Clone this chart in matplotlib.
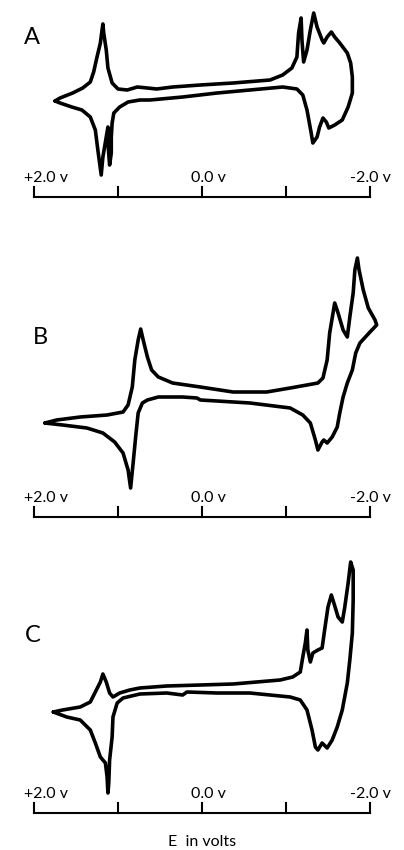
import matplotlib
matplotlib.use('Agg')
import matplotlib.pyplot as plt

# cyclic voltammograms, potential in volts, current in arbitrary units
# (each list is one closed scan starting at the positive limit)
eA = [1.75, 1.69, 1.54, 1.42, 1.33, 1.29, 1.25, 1.21, 1.19, 1.18, 1.17, 1.14, 1.12, 1.07, 1.00,
      0.89, 0.77, 0.65, 0.54, 0.35, 0.02, -0.37, -0.81, -0.96, -1.07, -1.13, -1.15, -1.18,
      -1.19, -1.21, -1.25, -1.29, -1.33, -1.37, -1.43, -1.45, -1.49, -1.54, -1.58, -1.64,
      -1.73, -1.77, -1.79, -1.79, -1.74, -1.67, -1.58, -1.51, -1.48, -1.44, -1.40, -1.37,
      -1.32, -1.30, -1.25, -1.20, -1.13, -0.96, -0.57, -0.18, 0.23, 0.62, 0.74, 0.88, 0.98,
      1.05, 1.07, 1.08, 1.08, 1.10, 1.12, 1.12, 1.14, 1.18, 1.20, 1.24, 1.27, 1.33, 1.43,
      1.55, 1.69, 1.75]
iA = [96, 99, 104, 109, 115, 125, 140, 154, 167, 173, 164, 147, 129, 114, 108,
      107, 110, 109, 108, 110, 112, 114, 117, 122, 129, 140, 164, 179,
      157, 135, 147, 167, 184, 170, 157, 154, 160, 165, 160, 154,
      144, 134, 120, 104, 90, 77, 72, 69, 75, 79, 70, 60,
      54, 64, 87, 102, 108, 110, 107, 104, 100, 97, 97, 95, 90,
      84, 74, 60, 44, 32, 54, 70, 60, 40, 22, 47, 67, 80, 87,
      90, 94, 96]

eB = [1.87, 1.73, 1.45, 1.13, 0.94, 0.88, 0.83, 0.80, 0.76, 0.73, 0.70, 0.65, 0.60, 0.52,
      0.35, 0.02, -0.37, -0.77, -1.05, -1.25, -1.38, -1.44, -1.49, -1.52, -1.56, -1.58,
      -1.62, -1.68, -1.73, -1.76, -1.80, -1.82, -1.85, -1.87, -1.92, -1.98, -2.06, -2.08,
      -2.00, -1.88, -1.83, -1.79, -1.73, -1.68, -1.64, -1.61, -1.55, -1.49, -1.45, -1.43,
      -1.38, -1.35, -1.29, -1.20, -1.05, -0.57, -0.18, 0.02, 0.06, 0.23, 0.52, 0.65, 0.71,
      0.76, 0.79, 0.82, 0.85, 0.88, 0.94, 1.04, 1.18, 1.37, 1.66, 1.87]
iB = [94, 97, 100, 102, 105, 112, 130, 157, 177, 188, 177, 160, 147, 140,
      134, 130, 125, 125, 129, 132, 134, 139, 157, 184, 204, 214,
      204, 187, 180, 200, 224, 247, 259, 247, 227, 209, 197, 192,
      185, 174, 164, 147, 134, 120, 104, 90, 80, 74, 77, 75,
      67, 77, 94, 102, 109, 114, 116, 117, 119, 120, 120, 117, 114,
      104, 80, 54, 29, 47, 64, 75, 84, 89, 92, 94]

eC = [1.77, 1.66, 1.45, 1.33, 1.27, 1.21, 1.18, 1.14, 1.10, 1.06, 0.98, 0.86, 0.74, 0.42,
      0.02, -0.37, -0.93, -1.08, -1.17, -1.20, -1.23, -1.25, -1.26, -1.29, -1.32, -1.38,
      -1.43, -1.46, -1.50, -1.54, -1.57, -1.62, -1.67, -1.70, -1.74, -1.77, -1.80, -1.80,
      -1.79, -1.76, -1.73, -1.67, -1.61, -1.55, -1.49, -1.43, -1.38, -1.35, -1.31, -1.25,
      -1.17, -1.05, -0.57, -0.18, 0.18, 0.23, 0.42, 0.74, 0.94, 1.01, 1.06, 1.07, 1.10,
      1.11, 1.12, 1.13, 1.15, 1.21, 1.27, 1.33, 1.45, 1.61, 1.77]
iC = [101, 103, 106, 111, 121, 131, 139, 131, 120, 116, 120, 123, 125, 127,
      128, 129, 133, 136, 141, 156, 170, 183, 163, 151, 160, 163,
      165, 183, 206, 218, 210, 196, 191, 206, 230, 251, 243, 213,
      180, 153, 130, 103, 86, 73, 65, 70, 63, 66, 83, 103,
      113, 116, 120, 120, 121, 118, 120, 119, 115, 110, 96, 76, 53,
      30, 20, 36, 50, 56, 70, 83, 93, 96, 101]

scale_ticks = [2.0, 1.0, 0.0, -1.0, -2.0]
scale_labels = {2.0: '+2.0 v', 0.0: '0.0 v', -2.0: '-2.0 v'}
label_shift = {2.0: -0.14, 0.0: -0.08, -2.0: 0.0}
panel_names = ['A', 'B', 'C']

FONT = ['Lato', 'DejaVu Sans']
W, H = 404, 850
fig = plt.figure(figsize=(W / 100, H / 100), dpi=100)

# (top px, bottom px, axis-line px, letter px position)
bands = [(0, 215, 197, (32, 37)),
         (215, 530, 517, (40, 338)),
         (530, 850, 813, (33, 635))]
traces = [(eA, iA), (eB, iB), (eC, iC)]

for name, (top, bot, base, (lx, ly)), (e, i) in zip(panel_names, bands, traces):
    ax = fig.add_axes([0, 1 - bot / H, 1, (bot - top) / H])
    ax.set_xlim(2.405, -2.405)
    ax.set_ylim(base - bot, base - top)
    ax.axis('off')

    ax.plot(e, i, color='black', lw=2.6, solid_joinstyle='round', solid_capstyle='round')

    # potential scale bar
    ax.plot([2.0, -2.0], [0, 0], color='black', lw=1.5)
    for t in scale_ticks:
        ax.plot([t, t], [0, 10], color='black', lw=1.5)
    for t, lab in scale_labels.items():
        ax.text(t + label_shift[t], 12, lab, ha='center', va='bottom', fontsize=11.5,
                family=FONT, color='black')

    ax.text((202 - lx) / 84, base - ly, name, ha='center', va='center',
            fontsize=17, family=FONT, color='black')

fig.text(0.5, 1 - 842 / H, 'E  in volts', ha='center', va='center', fontsize=11.5,
         family=FONT, color='black')

fig.savefig('out.png', dpi=100)
